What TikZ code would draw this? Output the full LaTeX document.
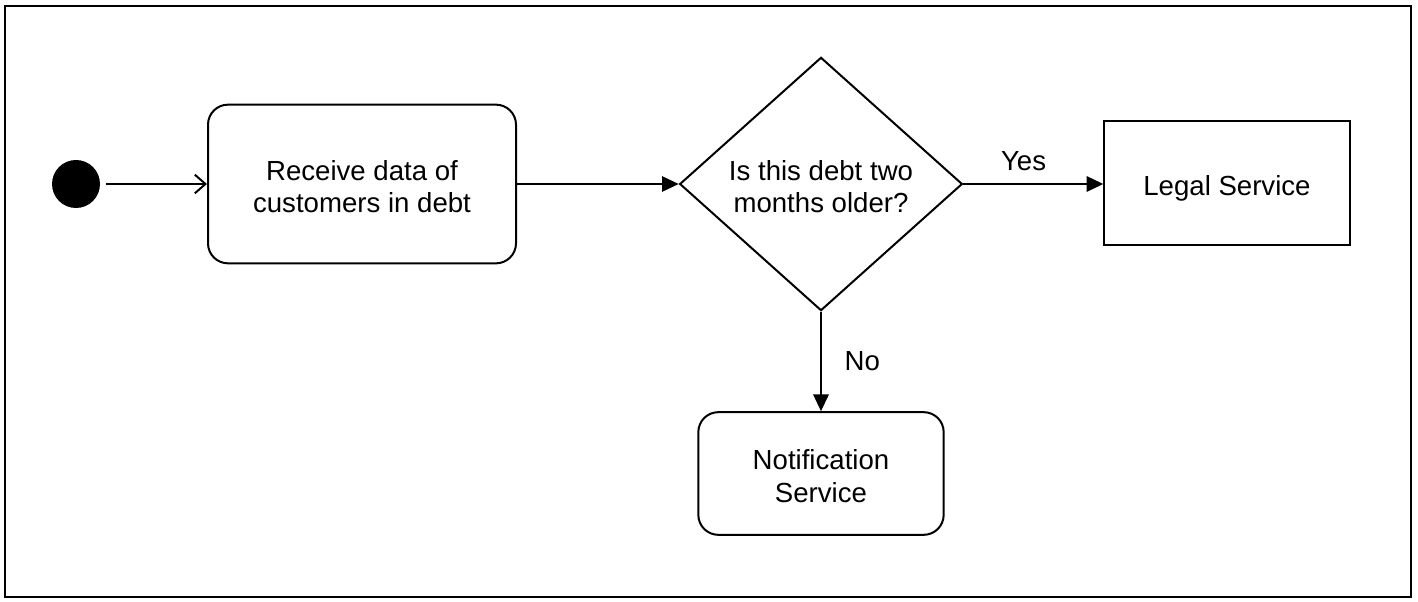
\documentclass[tikz,border=0pt]{standalone}
\usepackage{fontspec}
\setmainfont{Liberation Sans}
\usetikzlibrary{arrows.meta,shapes.geometric}
\tikzset{
  lbl/.style={font=\fontsize{20.7}{24.5}\selectfont, align=center, inner sep=0pt},
  act/.style={draw, line width=1.5pt, rounded corners=15pt, minimum width=231pt, minimum height=119pt},
  act2/.style={draw, line width=1.5pt, rounded corners=15pt, minimum width=184pt, minimum height=92pt},
  plainbox/.style={draw, line width=1.5pt, minimum width=184pt, minimum height=93pt},
  decision/.style={draw, line width=1.5pt, diamond, minimum width=212pt, minimum height=190pt, inner sep=0pt},
  flow/.style={line width=1.5pt, -{Triangle[length=12.5pt,width=11.5pt]}},
  openflow/.style={line width=1.5pt, -{Straight Barb[length=8pt,width=14pt]}},
}
\begin{document}
\begin{tikzpicture}[x=0.75pt,y=-0.75pt]
\useasboundingbox (0,0) rectangle (1418,602);
\draw[line width=2pt] (5,6) rectangle (1411,597);
\node[circle, fill=black, minimum size=36pt, inner sep=0pt] (start) at (76,184) {};
\node[act, label={[lbl,yshift=-2pt]center:Receive data of\\customers in debt}] (recv) at (362,184) {};
\node[decision, label={[lbl,yshift=-2pt]center:Is this debt two\\months older?}] (dec) at (821,184) {};
\node[plainbox, label={[lbl,yshift=-4pt]center:Legal Service}] (legal) at (1227,183) {};
\node[act2, label={[lbl,yshift=-2pt]center:Notification\\Service}] (notif) at (821,473.5) {};
\coordinate (s1) at ([xshift=4.5pt]start.east);
\draw[openflow] (s1) -- (recv.west);
\draw[flow] (recv.east) -- (dec.west);
\draw[flow] (dec.east) -- node[lbl, pos=0.43, above=9pt] {Yes} (dec.east -| legal.west);
\draw[flow] (dec.south) -- node[lbl, right=17pt] {No} (notif.north);
\end{tikzpicture}
\end{document}
